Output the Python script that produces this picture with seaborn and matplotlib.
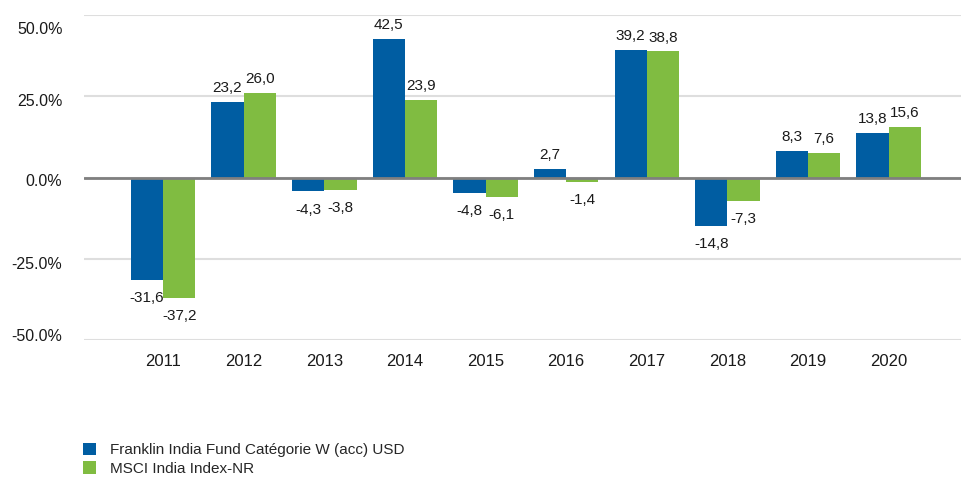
import matplotlib
matplotlib.use("Agg")
import matplotlib.pyplot as plt
import matplotlib.transforms as mtransforms
import seaborn as sns
import pandas as pd
from matplotlib.patches import Patch

years = ["2011", "2012", "2013", "2014", "2015", "2016", "2017", "2018", "2019", "2020"]
fund = [-31.6, 23.2, -4.3, 42.5, -4.8, 2.7, 39.2, -14.8, 8.3, 13.8]
index = [-37.2, 26.0, -3.8, 23.9, -6.1, -1.4, 38.8, -7.3, 7.6, 15.6]
series_names = ["Franklin India Fund Catégorie W (acc) USD", "MSCI India Index-NR"]
y_ticks = [-50, -25, 0, 25, 50]
y_tick_labels = ["-50.0%", "-25.0%", "0.0%", "25.0%", "50.0%"]

colors = ["#005DA2", "#80BC41"]

df = pd.DataFrame({
    "year": years * 2,
    "value": fund + index,
    "series": [series_names[0]] * len(years) + [series_names[1]] * len(years),
})

sns.set_theme(style="white")
plt.rcParams["font.family"] = ["Liberation Sans", "DejaVu Sans"]

W, H = 962, 478
fig = plt.figure(figsize=(W / 100, H / 100), dpi=100)
ax = fig.add_axes([84 / W, (H - 340) / H, (962 - 84) / W, (340 - 15) / H])

sns.barplot(data=df, x="year", y="value", hue="series", palette=colors,
            width=0.8, saturation=1, ax=ax, legend=False, zorder=3,
            edgecolor="none", linewidth=0)

ax.set_ylim(-50, 50)
ax.set_xlim(-0.98, 9.91)
ax.set_yticks(y_ticks)
ax.set_yticklabels(y_tick_labels)
ax.set_xlabel("")
ax.set_ylabel("")
for s in ax.spines.values():
    s.set_visible(False)
ax.grid(axis="y", color="#dedede", linewidth=1.5, zorder=0)
ax.grid(axis="x", visible=False)
ax.axhline(0, color="#7f7f7f", linewidth=2, zorder=4)
ax.tick_params(axis="both", length=0, labelsize=12, colors="#1a1a1a")
ax.tick_params(axis="y", pad=15.5, labelsize=11.5)
ax.tick_params(axis="x", pad=10)

# the reference's y labels sit slightly off their gridlines
shifts_px = {-50: 5, -25: -4, 0: -2, 25: -4, 50: -13}
for lbl, t in zip(ax.get_yticklabels(), y_ticks):
    dy = shifts_px[t] / 100.0
    lbl.set_transform(lbl.get_transform() +
                      mtransforms.ScaledTranslation(0, dy, fig.dpi_scale_trans))

for cont in ax.containers:
    for bar in cont:
        val = bar.get_y() + bar.get_height() if bar.get_height() >= 0 else bar.get_height()
        x = bar.get_x() + bar.get_width() / 2
        txt = f"{val:.1f}".replace(".", ",")
        off = 10 if val >= 0 else -13
        ax.annotate(txt, (x, val), xytext=(0, off), textcoords="offset points",
                    ha="center", va="center", fontsize=11, color="#1a1a1a", zorder=5)

handles = [Patch(facecolor=c, edgecolor="none") for c in colors]
fig.legend(handles, series_names, loc="upper left",
           bbox_to_anchor=(78 / W, 1 - 438 / H), frameon=False,
           fontsize=11, handlelength=0.9, handleheight=0.9,
           handletextpad=0.9, labelspacing=0.25, borderaxespad=0, borderpad=0.3)

fig.savefig("out.png", dpi=100)
